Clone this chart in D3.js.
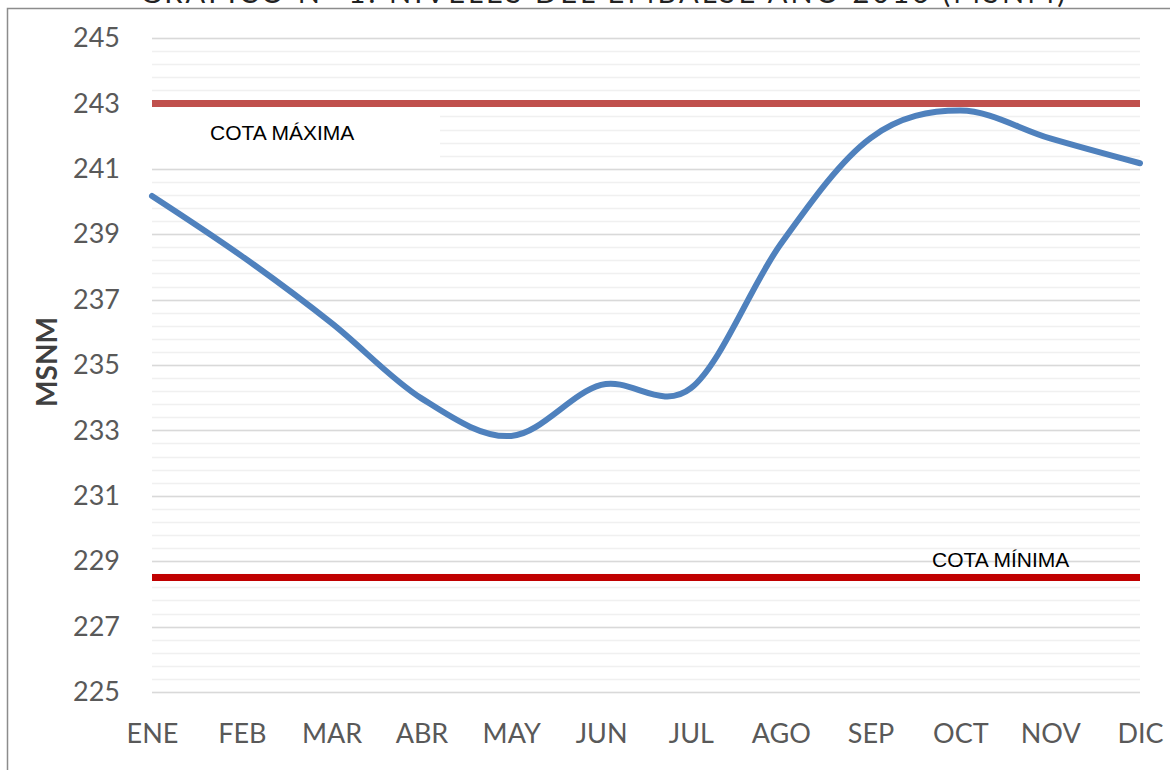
<!DOCTYPE html>
<html>
<head>
<meta charset="utf-8">
<script src="https://cdn.jsdelivr.net/npm/d3@7"></script>
<style>
  body { margin: 0; background: #fff; }
  svg { display: block; }
</style>
</head>
<body>
<div id="chart"></div>
<script>
var width = 1170,
  height = 770;

// data
var months = ["ENE", "FEB", "MAR", "ABR", "MAY", "JUN", "JUL", "AGO", "SEP", "OCT", "NOV", "DIC"];
var nivel = [240.17, 238.33, 236.28, 233.98, 232.83, 234.39, 234.29, 238.7, 241.94, 242.78, 241.93, 241.17];
var cotaMaxima = 243;
var cotaMinima = 228.5;
var yTicks = [225, 227, 229, 231, 233, 235, 237, 239, 241, 243, 245];

var margin = { left: 152, right: 30, top: 38, bottom: 78 };

var svg = d3.select("#chart")
  .append("svg")
  .attr("width", width)
  .attr("height", height);

// cut-off title at the very top
svg.append("text")
  .attr("x", 140)
  .attr("y", 3)
  .attr("textLength", 925)
  .attr("lengthAdjust", "spacing")
  .style("font-family", "Lato, sans-serif")
  .style("font-size", "29px")
  .style("fill", "#222")
  .text("GRÁFICO N° 1: NIVELES DEL EMBALSE AÑO 2016 (MSNM)");

// chart frame
svg.append("rect")
  .attr("x", 7.5)
  .attr("y", 8.5)
  .attr("width", width + 20)
  .attr("height", height + 20)
  .style("fill", "#fff")
  .style("stroke", "#8c8c8c")
  .style("stroke-width", 1.5);

var x = d3.scalePoint()
  .domain(months)
  .range([margin.left, width - margin.right]);

var y = d3.scaleLinear()
  .domain([225, 245])
  .range([height - margin.bottom, margin.top]);

// minor gridlines every 0.4
svg.append("g")
  .selectAll("line")
  .data(d3.range(0, 51).map(function (i) { return 225 + i * 0.4; }))
  .enter()
  .append("line")
  .attr("x1", margin.left)
  .attr("x2", width - margin.right)
  .attr("y1", function (d) { return Math.round(y(d)) + 0.5; })
  .attr("y2", function (d) { return Math.round(y(d)) + 0.5; })
  .style("stroke", "#f0f0f0")
  .style("stroke-width", 1.5);

// major gridlines
svg.append("g")
  .selectAll("line")
  .data(yTicks)
  .enter()
  .append("line")
  .attr("x1", margin.left)
  .attr("x2", width - margin.right)
  .attr("y1", function (d) { return Math.round(y(d)) + 0.5; })
  .attr("y2", function (d) { return Math.round(y(d)) + 0.5; })
  .style("stroke", "#d9d9d9")
  .style("stroke-width", 1.5);

// white box behind the max label
svg.append("rect")
  .attr("x", margin.left)
  .attr("y", 110)
  .attr("width", 288)
  .attr("height", 53)
  .style("fill", "#fff");

// y axis labels
var yAxis = d3.axisLeft(y).tickValues(yTicks).tickSize(0).tickPadding(32);
var gy = svg.append("g")
  .attr("transform", "translate(" + margin.left + ",0)")
  .call(yAxis);
gy.select(".domain").remove();
gy.selectAll("text")
  .style("font-family", "Lato, sans-serif")
  .style("font-size", "27px")
  .style("fill", "#595959");

// x axis labels
var xAxis = d3.axisBottom(x).tickSize(0).tickPadding(32);
var gx = svg.append("g")
  .attr("transform", "translate(0," + (height - margin.bottom) + ")")
  .call(xAxis);
gx.select(".domain").remove();
gx.selectAll("text")
  .style("font-family", "Lato, sans-serif")
  .style("font-size", "27px")
  .style("fill", "#595959");

// axis title
svg.append("text")
  .attr("transform", "translate(57," + 362 + ") rotate(-90)")
  .attr("text-anchor", "middle")
  .style("font-family", "Lato, sans-serif")
  .style("font-weight", "bold")
  .style("font-size", "28px")
  .style("fill", "#404040")
  .text("MSNM");

// cota lines
svg.append("line")
  .attr("x1", margin.left)
  .attr("x2", width - margin.right)
  .attr("y1", y(cotaMaxima))
  .attr("y2", y(cotaMaxima))
  .style("stroke", "#c0504d")
  .style("stroke-width", 7);

svg.append("line")
  .attr("x1", margin.left)
  .attr("x2", width - margin.right)
  .attr("y1", y(cotaMinima))
  .attr("y2", y(cotaMinima))
  .style("stroke", "#c00000")
  .style("stroke-width", 7);

svg.append("text")
  .attr("x", 210)
  .attr("y", 140)
  .style("font-family", "'Liberation Sans', Arial, sans-serif")
  .style("font-size", "21px")
  .style("fill", "#000")
  .text("COTA MÁXIMA");

svg.append("text")
  .attr("x", 932)
  .attr("y", 567)
  .style("font-family", "'Liberation Sans', Arial, sans-serif")
  .style("font-size", "21px")
  .style("fill", "#000")
  .text("COTA MÍNIMA");

// level series, smoothed like the spreadsheet line
var line = d3.line()
  .x(function (d, i) { return x(months[i]); })
  .y(function (d) { return y(d); })
  .curve(d3.curveCardinal.tension(0));

svg.append("path")
  .datum(nivel)
  .attr("d", line)
  .style("fill", "none")
  .style("stroke", "#4f81bd")
  .style("stroke-width", 6)
  .style("stroke-linecap", "round");
</script>
</body>
</html>
